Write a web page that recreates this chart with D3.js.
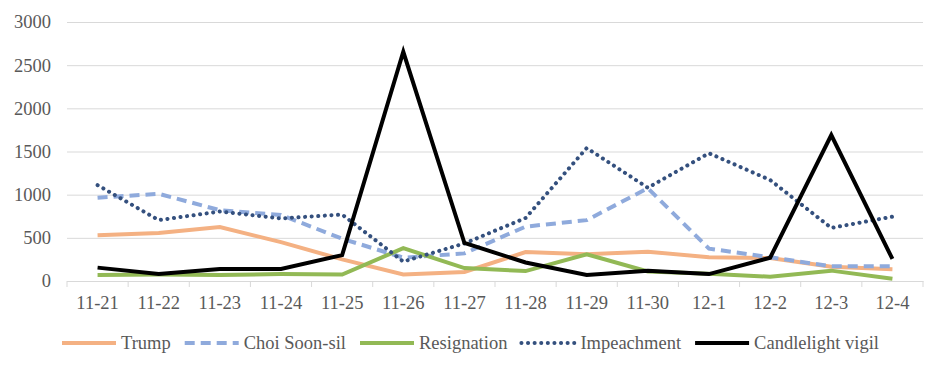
<!DOCTYPE html>
<html>
<head>
<meta charset="utf-8">
<script src="https://cdn.jsdelivr.net/npm/d3@7"></script>
<style>
  body { margin: 0; background: #fff; }
</style>
</head>
<body>
<div class="chart"></div>
<script>
// Chart data
var dates = ["11-21", "11-22", "11-23", "11-24", "11-25", "11-26", "11-27", "11-28", "11-29", "11-30", "12-1", "12-2", "12-3", "12-4"];
var trump = [530, 555, 625, 450, 250, 75, 105, 335, 310, 340, 275, 265, 165, 135];
var choi = [965, 1010, 820, 765, 490, 270, 320, 630, 705, 1075, 375, 275, 170, 170];
var resignation = [70, 75, 70, 80, 75, 380, 150, 115, 310, 110, 85, 50, 120, 25];
var impeachment = [1110, 705, 805, 725, 770, 225, 435, 730, 1540, 1080, 1480, 1170, 615, 745];
var vigil = [155, 80, 140, 140, 300, 2655, 440, 215, 70, 120, 80, 270, 1690, 255];
var yTicks = [0, 500, 1000, 1500, 2000, 2500, 3000];

var series = [
    {name: "Trump", values: trump, color: "#F4B183", width: 4, dash: null},
    {name: "Choi Soon-sil", values: choi, color: "#8FAADC", width: 4, dash: "10,6"},
    {name: "Resignation", values: resignation, color: "#92B955", width: 4, dash: null},
    {name: "Impeachment", values: impeachment, color: "#34507E", width: 4, dash: "0.1,6.5"},
    {name: "Candlelight vigil", values: vigil, color: "#000000", width: 4, dash: null}
];

var fontFamily = "Liberation Serif";

var svgWidth = 941;
var svgHeight = 371;

var margin = {top: 22, right: 18, bottom: 90, left: 67};
var width = svgWidth - margin.left - margin.right;
var height = svgHeight - margin.top - margin.bottom;

var svg = d3.select(".chart")
    .append("svg")
    .attr("width", svgWidth)
    .attr("height", svgHeight);

var chartGroup = svg.append("g")
    .attr("transform", `translate(${margin.left}, ${margin.top})`);

// Scales
var xScale = d3.scaleBand()
    .domain(dates)
    .range([0, width]);

var yScale = d3.scaleLinear()
    .domain([0, 3000])
    .range([height, 0]);

// Gridlines + y labels
var leftAxis = d3.axisLeft(yScale)
    .tickValues(yTicks)
    .tickFormat(d3.format("d"))
    .tickSize(-width)
    .tickPadding(16);

var yAxisG = chartGroup.append("g").call(leftAxis);
yAxisG.attr("font-family", fontFamily).attr("font-size", 18.5);
yAxisG.select(".domain").remove();
yAxisG.selectAll(".tick line").attr("stroke", "#D9D9D9").attr("stroke-width", 1);
yAxisG.selectAll(".tick text").attr("fill", "#595959");

// Bottom axis
var bottomAxis = d3.axisBottom(xScale).tickSize(0).tickPadding(15);
var xAxisG = chartGroup.append("g")
    .attr("transform", `translate(0, ${height})`)
    .call(bottomAxis);
xAxisG.attr("font-family", fontFamily).attr("font-size", 18.5);
xAxisG.select(".domain").attr("stroke", "#D9D9D9");
xAxisG.selectAll(".tick text").attr("fill", "#595959");

// tick marks sit on category boundaries
xAxisG.selectAll(".bound")
    .data(dates.concat(["end"]))
    .enter()
    .append("line")
    .attr("x1", d => d === "end" ? width : xScale(d))
    .attr("x2", d => d === "end" ? width : xScale(d))
    .attr("y1", 0)
    .attr("y2", 6)
    .attr("stroke", "#D9D9D9");

// Lines
var line = d3.line()
    .x((d, i) => xScale(dates[i]) + xScale.bandwidth() / 2)
    .y(d => yScale(d));

series.forEach(function(s) {
    chartGroup.append("path")
        .datum(s.values)
        .attr("d", line)
        .attr("fill", "none")
        .attr("stroke", s.color)
        .attr("stroke-width", s.width)
        .attr("stroke-dasharray", s.dash)
        .attr("stroke-linecap", s.dash === "0.1,6.5" ? "round" : "butt")
        .attr("stroke-linejoin", "miter");
});

// Legend
var legend = svg.append("g")
    .attr("transform", "translate(62, 343)")
    .attr("font-family", fontFamily)
    .attr("font-size", 18.5);
var lx = 0;
series.forEach(function(s) {
    legend.append("line")
        .attr("x1", lx)
        .attr("x2", lx + 54)
        .attr("y1", 0)
        .attr("y2", 0)
        .attr("stroke", s.color)
        .attr("stroke-width", s.width)
        .attr("stroke-dasharray", s.dash)
        .attr("stroke-linecap", s.dash === "0.1,6.5" ? "round" : "butt");
    var t = legend.append("text")
        .attr("x", lx + 59)
        .attr("y", 6)
        .attr("fill", "#595959")
        .text(s.name);
    lx += 59 + t.node().getComputedTextLength() + 14;
});
</script>
</body>
</html>
